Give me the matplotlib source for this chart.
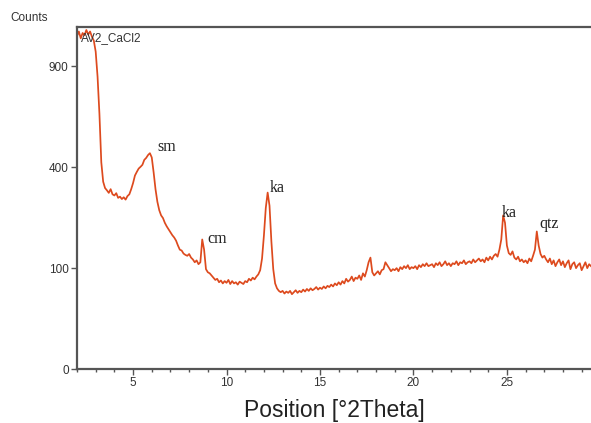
import numpy as np
import matplotlib
matplotlib.use("Agg")
import matplotlib.pyplot as plt
from matplotlib.ticker import MultipleLocator, FixedLocator

# ---- data (2theta from 2.0 to 29.5 in 0.1 steps) ----
two_theta_start = 2.0
two_theta_step = 0.1
counts = [
    1090, 1120, 1075, 1110, 1095, 1130, 1100, 1120, 1085, 1060,   # 2.x
    990, 840, 640, 420, 345, 322, 314, 305, 318, 300,             # 3.x
    296, 304, 288, 292, 284, 290, 282, 294, 300, 318,             # 4.x
    340, 368, 382, 395, 402, 410, 430, 438, 450, 458,             # 5.x
    440, 380, 318, 275, 248, 232, 224, 210, 200, 192,             # 6.x
    184, 176, 170, 162, 150, 140, 138, 131, 128, 126,             # 7.x
    130, 122, 118, 112, 116, 108, 112, 165, 140, 98,              # 8.x
    92, 90, 86, 82, 78, 80, 74, 77, 72, 76,                       # 9.x
    73, 78, 71, 76, 72, 74, 70, 75, 73, 71,                       # 10.x
    76, 74, 80, 77, 82, 79, 84, 88, 96, 120,                      # 11.x
    175, 255, 306, 262, 160, 98, 72, 64, 60, 58,                  # 12.x
    60, 56, 59, 57, 60, 55, 58, 61, 57, 60,                       # 13.x
    58, 62, 59, 63, 60, 64, 61, 63, 66, 62,                       # 14.x
    65, 63, 67, 64, 68, 66, 70, 67, 72, 69,                       # 15.x
    74, 70, 76, 72, 80, 75, 78, 84, 76, 82,                       # 16.x
    80, 86, 78, 90, 84, 96, 112, 122, 92, 86,                     # 17.x
    90, 94, 88, 96, 98, 112, 106, 100, 94, 98,                    # 18.x
    96, 100, 94, 102, 98, 104, 100, 106, 98, 102,                 # 19.x
    100, 104, 98, 106, 102, 108, 104, 110, 104, 106,              # 20.x
    108, 102, 110, 106, 112, 104, 108, 114, 106, 110,             # 21.x
    104, 110, 108, 114, 106, 112, 110, 116, 108, 112,             # 22.x
    114, 110, 118, 112, 116, 120, 114, 118, 112, 122,             # 23.x
    116, 124, 118, 126, 130, 124, 140, 165, 232, 210,             # 24.x
    150, 132, 128, 136, 122, 118, 124, 114, 118, 112,             # 25.x
    116, 110, 120, 114, 126, 140, 186, 150, 130, 122,             # 26.x
    126, 118, 112, 120, 108, 116, 104, 112, 118, 106,             # 27.x
    114, 102, 110, 116, 98, 108, 112, 100, 106, 110,              # 28.x
    96, 104, 112, 100, 108, 104,                                  # 29.x
]
two_theta = two_theta_start + two_theta_step * np.arange(len(counts))

peak_labels = ["sm", "cm", "ka", "ka", "qtz"]

sample_name = "AV2_CaCl2"
x_ticks = [5, 10, 15, 20, 25]
y_ticks = [0, 100, 400, 900]

# ---- figure ----
fig = plt.figure(figsize=(5.91, 4.23), dpi=100)
ax = fig.add_axes([77/591, 54/423, 1 - 77/591, (369-27)/423])

ax.set_yscale("function", functions=(lambda v: np.sqrt(np.clip(v, 0, None)), lambda v: v**2))
ax.plot(two_theta, counts, color="#dd4a1e", lw=1.25)

ax.set_xlim(2.0, 29.5)
ax.set_ylim(0, 1150)

ax.xaxis.set_major_locator(FixedLocator(x_ticks))
ax.xaxis.set_minor_locator(MultipleLocator(1))
ax.yaxis.set_major_locator(FixedLocator(y_ticks))
ax.yaxis.set_minor_locator(FixedLocator([]))
ax.set_yticklabels([str(v) for v in y_ticks])

for s in ["left", "bottom", "top"]:
    ax.spines[s].set_color("#555555")
    ax.spines[s].set_linewidth(1.6)
ax.spines["right"].set_visible(False)

ax.tick_params(axis="both", which="major", direction="out", length=4, width=1,
               color="#555555", labelsize=8.5, labelcolor="#333333", pad=2)
ax.tick_params(axis="x", which="minor", direction="out", length=2.5, width=1, color="#555555")

ax.set_xlabel("Position [°2Theta]", fontsize=16.5, color="#222222", labelpad=7,
              family="Liberation Sans")
for lab in ax.get_xticklabels() + ax.get_yticklabels():
    lab.set_family("Liberation Sans")

fig.text(10/591, 1 - 18/423, "Counts", fontsize=8.5, color="#333333",
         family="Liberation Sans", va="center", ha="left")
ax.text(0.008, 0.985, sample_name, transform=ax.transAxes, fontsize=8.5,
        color="#333333", family="Liberation Sans", va="top", ha="left")

# label anchor points (left edge, baseline) in data coordinates
label_x = [6.28, 9.0, 12.32, 24.73, 26.76]
label_y = [467, 156, 308, 227, 195]
for lab, lx, ly in zip(peak_labels, label_x, label_y):
    ax.text(lx, ly, lab, fontsize=11.5, family="Liberation Serif", color="#222222",
            ha="left", va="baseline")

fig.savefig("out.png", dpi=100)
